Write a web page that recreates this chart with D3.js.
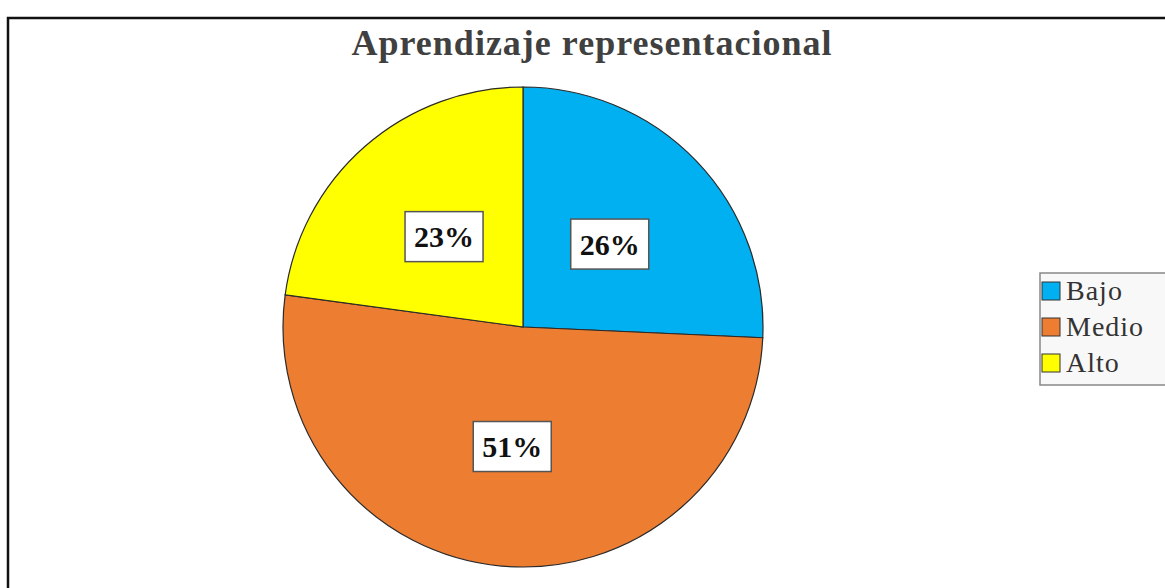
<!DOCTYPE html>
<html>
<head>
<meta charset="utf-8">
<script src="https://cdn.jsdelivr.net/npm/d3@7"></script>
<style>
  body { margin: 0; background: #fff; }
  svg { display: block; }
  svg text { font-family: "Liberation Serif", "DejaVu Serif", "Times New Roman", serif; }
</style>
</head>
<body>
<svg id="chart" width="1165" height="588"></svg>
<script>
// counts (9/35, 18/35, 8/35 -> 26%, 51%, 23%)
const categories = ["Bajo", "Medio", "Alto"];
const counts = [9, 18, 8];
const colors = ["#00b0f0", "#ed7d31", "#ffff00"];
const title = "Aprendizaje representacional";

const svg = d3.select("#chart");
const width = 1165, height = 588;
const cx = 523, cy = 327, radius = 240;

// outer frame (right and bottom edges fall off the picture)
svg.append("rect")
    .attr("x", 8).attr("y", 18)
    .attr("width", width + 20).attr("height", height + 20)
    .attr("fill", "#fff")
    .attr("stroke", "#111")
    .attr("stroke-width", 2.5);

svg.append("text")
    .attr("x", 592).attr("y", 55)
    .attr("text-anchor", "middle")
    .attr("font-weight", "bold")
    .attr("font-size", 36)
    .attr("letter-spacing", 1)
    .attr("fill", "#404040")
    .text(title);

const data = categories.map((c, i) => ({ name: c, value: counts[i], color: colors[i] }));
const total = d3.sum(counts);

const pie = d3.pie().value(d => d.value).sort(null);
const arc = d3.arc().innerRadius(0).outerRadius(radius);
const labelArc = d3.arc().innerRadius(radius * 0.5).outerRadius(radius * 0.5);

const g = svg.append("g").attr("transform", `translate(${cx},${cy})`);
const arcs = pie(data);

g.selectAll("path.slice")
    .data(arcs)
    .enter().append("path")
    .attr("class", "slice")
    .attr("d", arc)
    .attr("fill", d => d.data.color)
    .attr("stroke", "#2a2a2a")
    .attr("stroke-width", 1.2);

// percent labels in white boxes
const labels = g.selectAll("g.lbl")
    .data(arcs)
    .enter().append("g")
    .attr("class", "lbl")
    .attr("transform", d => `translate(${labelArc.centroid(d)})`);

labels.append("rect")
    .attr("x", -39).attr("y", -25)
    .attr("width", 78).attr("height", 50)
    .attr("fill", "#fff")
    .attr("stroke", "#555")
    .attr("stroke-width", 1.5);

labels.append("text")
    .attr("text-anchor", "middle")
    .attr("dy", "0.35em")
    .attr("font-weight", "bold")
    .attr("font-size", 30)
    .attr("fill", "#111")
    .text(d => Math.round(d.data.value / total * 100) + "%");

// legend, clipped by the right edge
const legend = svg.append("g").attr("transform", "translate(1040,273)");
legend.append("rect")
    .attr("width", 140).attr("height", 112)
    .attr("fill", "#f8f8f8")
    .attr("stroke", "#888")
    .attr("stroke-width", 1.5);

const items = legend.selectAll("g.item")
    .data(data)
    .enter().append("g")
    .attr("class", "item")
    .attr("transform", (d, i) => `translate(2,${9 + i * 36})`);

items.append("rect")
    .attr("width", 18).attr("height", 18)
    .attr("fill", d => d.color)
    .attr("stroke", "#333")
    .attr("stroke-width", 1);

items.append("text")
    .attr("x", 24).attr("y", 18)
    .attr("font-size", 28)
    .attr("letter-spacing", 1)
    .attr("fill", "#333")
    .text(d => d.name);
</script>
</body>
</html>
